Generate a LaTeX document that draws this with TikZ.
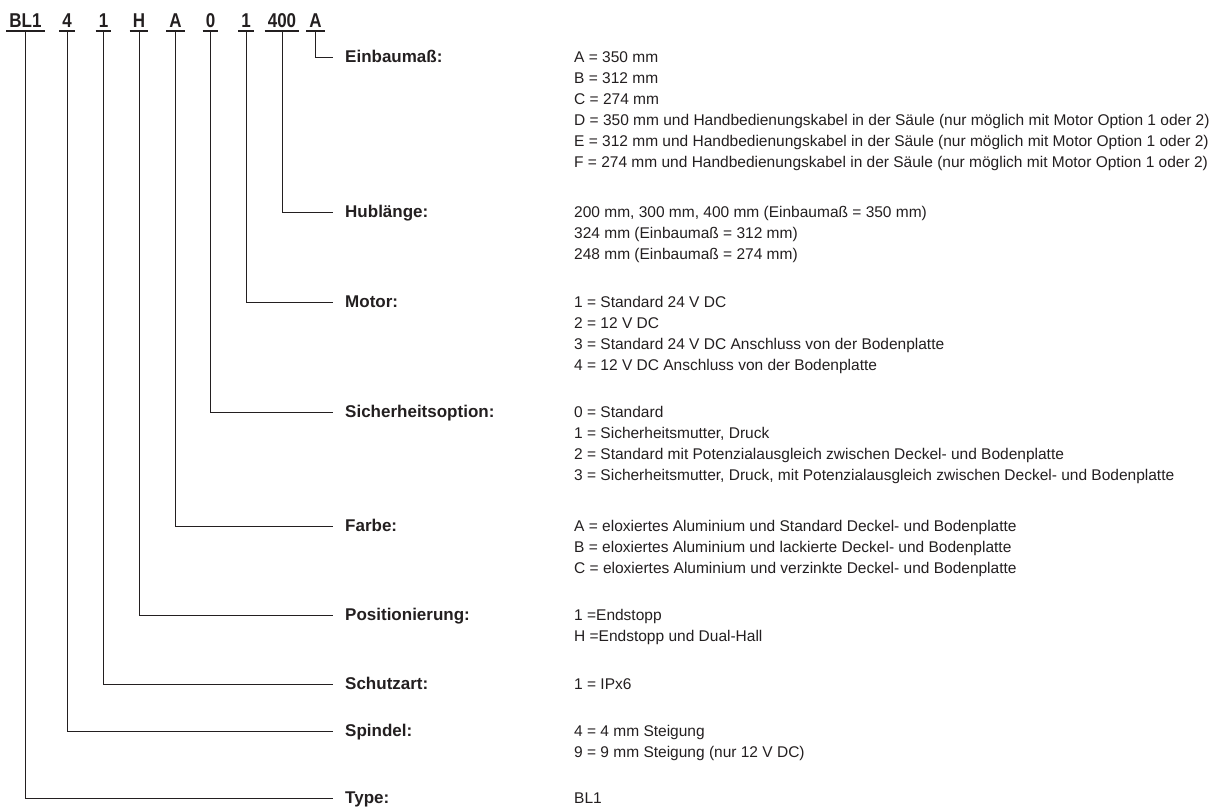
\documentclass[tikz,border=0pt]{standalone}
\usepackage{fontspec}
\usepackage{graphicx}
\setmainfont{Liberation Sans}
\definecolor{ink}{HTML}{231F20}
\newcommand\hdrfont{\bfseries\fontsize{20}{24}\selectfont}
\newcommand\hdrtext[1]{\scalebox{0.85}[1]{#1}}
\newcommand\lblfont{\bfseries\fontsize{17}{21}\selectfont}
\newcommand\dscfont{\fontsize{15.5}{21}\selectfont}
\newcommand\lines[1]{\begin{tabular}[t]{@{}l@{}}#1\end{tabular}}
\tikzset{
  hdr/.style={font=\hdrfont, text=ink, inner sep=0pt, anchor=base},
  lbl/.style={font=\lblfont, text=ink, inner sep=0pt, anchor=base west},
  dsc/.style={font=\dscfont, text=ink, inner sep=0pt, anchor=base west},
  conn/.style={draw=ink, line width=0.9pt},
  uline/.style={draw=ink, line width=1.7pt},
}
\begin{document}
\begin{tikzpicture}[x=1pt,y=-1pt]
\useasboundingbox (0,0) rectangle (1223,809);
% header code
\node[hdr] (h1) at (25.5,27) {\hdrtext{BL1}};
\node[hdr] (h2) at (67,27) {\hdrtext{4}};
\node[hdr] (h3) at (103.5,27) {\hdrtext{1}};
\node[hdr] (h4) at (139,27) {\hdrtext{H}};
\node[hdr] (h5) at (175.5,27) {\hdrtext{A}};
\node[hdr] (h6) at (210.5,27) {\hdrtext{0}};
\node[hdr] (h7) at (246,27) {\hdrtext{1}};
\node[hdr] (h8) at (282,27) {\hdrtext{400}};
\node[hdr] (h9) at (315.5,27) {\hdrtext{A}};
\foreach \n in {1,...,9}{
  \draw[uline] ([shift={(-3,4)}]h\n.base west) -- ([shift={(3,4)}]h\n.base east);
}
% row end points of the connectors
\coordinate (e9) at (333,57);
\coordinate (e8) at (333,212);
\coordinate (e7) at (333,302);
\coordinate (e6) at (333,412);
\coordinate (e5) at (333,526);
\coordinate (e4) at (333,615);
\coordinate (e3) at (333,684);
\coordinate (e2) at (333,731);
\coordinate (e1) at (333,798);
\foreach \n in {1,...,9}{
  \draw[conn] ([yshift=-4]h\n.base) |- (e\n);
}
% labels
\node[lbl] (l9) at (345,62.5) {Einbaumaß:};
\node[lbl] (l8) at (345,217.5) {Hublänge:};
\node[lbl] (l7) at (345,307.5) {Motor:};
\node[lbl] (l6) at (345,417.5) {Sicherheitsoption:};
\node[lbl] (l5) at (345,531.5) {Farbe:};
\node[lbl] (l4) at (345,620.5) {Positionierung:};
\node[lbl] (l3) at (345,689.5) {Schutzart:};
\node[lbl] (l2) at (345,736.5) {Spindel:};
\node[lbl] (l1) at (345,803.5) {Type:};
% descriptions
\node[dsc] (d9) at (574,62.5) {\lines{A = 350 mm\\B = 312 mm\\C = 274 mm\\
  D = 350 mm und Handbedienungskabel in der Säule (nur möglich mit Motor Option 1 oder 2)\\
  E = 312 mm und Handbedienungskabel in der Säule (nur möglich mit Motor Option 1 oder 2)\\
  F = 274 mm und Handbedienungskabel in der Säule (nur möglich mit Motor Option 1 oder 2)}};
\node[dsc] (d8) at (574,217.5) {\lines{200 mm, 300 mm, 400 mm (Einbaumaß = 350 mm)\\
  324 mm (Einbaumaß = 312 mm)\\248 mm (Einbaumaß = 274 mm)}};
\node[dsc] (d7) at (574,307.5) {\lines{1 = Standard 24 V DC\\2 = 12 V DC\\
  3 = Standard 24 V DC Anschluss von der Bodenplatte\\4 = 12 V DC Anschluss von der Bodenplatte}};
\node[dsc] (d6) at (574,417.5) {\lines{0 = Standard\\1 = Sicherheitsmutter, Druck\\
  2 = Standard mit Potenzialausgleich zwischen Deckel- und Bodenplatte\\
  3 = Sicherheitsmutter, Druck, mit Potenzialausgleich zwischen Deckel- und Bodenplatte}};
\node[dsc] (d5) at (574,531.5) {\lines{A = eloxiertes Aluminium und Standard Deckel- und Bodenplatte\\
  B = eloxiertes Aluminium und lackierte Deckel- und Bodenplatte\\
  C = eloxiertes Aluminium und verzinkte Deckel- und Bodenplatte}};
\node[dsc] (d4) at (574,620.5) {\lines{1 =Endstopp\\H =Endstopp und Dual-Hall}};
\node[dsc] (d3) at (574,689.5) {\lines{1 = IPx6}};
\node[dsc] (d2) at (574,736.5) {\lines{4 = 4 mm Steigung\\9 = 9 mm Steigung (nur 12 V DC)}};
\node[dsc] (d1) at (574,803.5) {\lines{BL1}};
\end{tikzpicture}
\end{document}
